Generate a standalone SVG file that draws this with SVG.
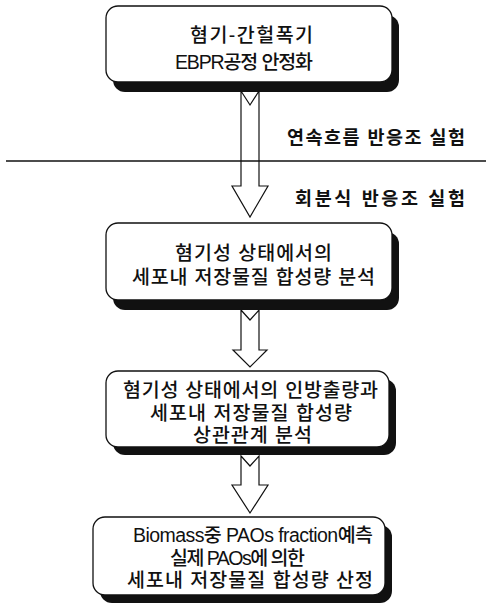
<svg xmlns="http://www.w3.org/2000/svg" width="486" height="606" viewBox="0 0 486 606">
<style>
.box{fill:#fff;stroke:#111;stroke-width:1.3}
.sh{fill:#111}
.t{font-family:"Liberation Sans","Noto Sans CJK KR",sans-serif;font-size:19.5px;font-weight:500;fill:#111}
.lb{font-family:"Liberation Sans","Noto Sans CJK KR",sans-serif;font-size:18.5px;font-weight:bold;fill:#111}
.ar{fill:#fff;stroke:#111;stroke-width:1.2;stroke-linejoin:miter}
</style>
<rect width="486" height="606" fill="#fff"/>
<g id="connectors">
<polygon class="ar" points="241,91 250,105 259,91 259,186 268,186 250,217 232,186 241,186"/>
<polygon class="ar" points="241,310 250,320 259,310 259,350 267,350 250,367 233,350 241,350"/>
<polygon class="ar" points="241,456 250,466 259,456 259,485 268,485 250,513 232,485 241,485"/>
</g>
<g id="divider">
<line x1="6" y1="161" x2="486" y2="161" stroke="#111" stroke-width="1.4"/>
</g>
<g id="label-continuous">
<text class="lb" x="287" y="144" textLength="178" lengthAdjust="spacing">연속흐름 반응조 실험</text>
</g>
<g id="label-batch">
<text class="lb" x="295" y="205" textLength="170" lengthAdjust="spacing">회분식 반응조 실험</text>
</g>
<g id="node1">
<rect class="sh" x="113" y="15" width="286" height="77" rx="12"/>
<rect class="box" x="106" y="6" width="286" height="76" rx="12"/>
<text class="t" x="190" y="42" textLength="123" lengthAdjust="spacing">혐기-간헐폭기</text>
<text class="t" x="175" y="69" textLength="138" lengthAdjust="spacing">EBPR공정 안정화</text>
</g>
<g id="node2">
<rect class="sh" x="113" y="232" width="286" height="78" rx="12"/>
<rect class="box" x="106" y="223" width="286" height="77" rx="12"/>
<text class="t" x="175" y="260" textLength="157" lengthAdjust="spacing">혐기성 상태에서의</text>
<text class="t" x="132" y="284" textLength="243" lengthAdjust="spacing">세포내 저장물질 합성량 분석</text>
</g>
<g id="node3">
<rect class="sh" x="113" y="379" width="283" height="76" rx="12"/>
<rect class="box" x="106" y="371" width="283" height="76" rx="12"/>
<text class="t" x="123" y="397" textLength="255" lengthAdjust="spacing">혐기성 상태에서의 인방출량과</text>
<text class="t" x="150" y="420" textLength="202" lengthAdjust="spacing">세포내 저장물질 합성량</text>
<text class="t" x="193" y="442" textLength="119" lengthAdjust="spacing">상관관계 분석</text>
</g>
<g id="node4">
<rect class="sh" x="100" y="525" width="292" height="78" rx="12"/>
<rect class="box" x="93" y="517" width="292" height="78" rx="12"/>
<text class="t" x="133" y="542" textLength="240" lengthAdjust="spacing">Biomass중 PAOs fraction예측</text>
<text class="t" x="170" y="565" textLength="135" lengthAdjust="spacing">실제 PAOs에 의한</text>
<text class="t" x="127" y="587" textLength="246" lengthAdjust="spacing">세포내 저장물질 합성량 산정</text>
</g>
</svg>
